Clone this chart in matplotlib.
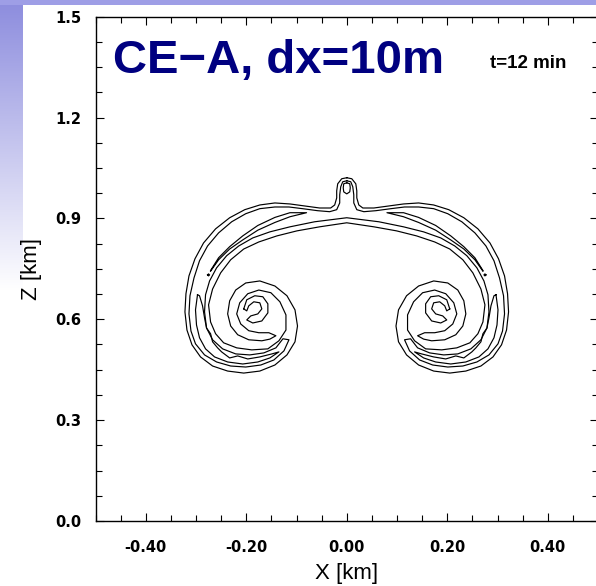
import numpy as np
import matplotlib.pyplot as plt
from matplotlib.patches import Rectangle
from matplotlib.ticker import MultipleLocator

# The run is symmetric about x=0, so the right half is the mirror image.

# outermost contour: top of the cap -> down the side -> spiral -> back out -> bottom of stem
c1_x = [0.000, -0.010, -0.018, -0.020, -0.020, -0.024,
        -0.032, -0.054, -0.084, -0.113, -0.143, -0.173, -0.203, -0.233, -0.261, -0.285,
        -0.302, -0.314, -0.320, -0.322, -0.318, -0.308, -0.291, -0.267, -0.237, -0.205,
        -0.173, -0.143, -0.119, -0.103, -0.098, -0.103, -0.119, -0.143, -0.173, -0.201,
        -0.221, -0.233, -0.237, -0.231, -0.217, -0.195, -0.169, -0.153, -0.141,
        -0.155, -0.175, -0.195, -0.211, -0.219, -0.213, -0.197, -0.175, -0.151, -0.133,
        -0.121, -0.121, -0.135, -0.157, -0.189, -0.219, -0.245, -0.261, -0.271, -0.275,
        -0.267, -0.251, -0.231, -0.205, -0.175, -0.139, -0.099, -0.054, 0.000]
c1_z = [1.021, 1.018, 1.003, 0.982, 0.961, 0.940,
        0.931, 0.931, 0.937, 0.943, 0.946, 0.940, 0.926, 0.902, 0.869, 0.827,
        0.780, 0.729, 0.676, 0.622, 0.568, 0.524, 0.488, 0.461, 0.446, 0.440,
        0.446, 0.464, 0.494, 0.533, 0.580, 0.628, 0.670, 0.699, 0.714, 0.708,
        0.687, 0.655, 0.616, 0.580, 0.554, 0.539, 0.536, 0.541, 0.551,
        0.560, 0.560, 0.566, 0.586, 0.616, 0.649, 0.676, 0.687, 0.679, 0.652,
        0.613, 0.568, 0.536, 0.512, 0.509, 0.515, 0.530, 0.557, 0.592, 0.643,
        0.690, 0.738, 0.777, 0.809, 0.830, 0.848, 0.863, 0.875, 0.887]

# second contour, inside the band, closing at the bottom of the roll
c2_x = [0.000, -0.008, -0.012, -0.014, -0.014, -0.020, -0.034, -0.058, -0.088, -0.115,
        -0.143, -0.173, -0.201, -0.229, -0.255, -0.277, -0.293, -0.304, -0.312, -0.314,
        -0.310, -0.301, -0.283, -0.259, -0.231, -0.201, -0.171, -0.145, -0.125, -0.115,
        -0.127, -0.141, -0.165, -0.193, -0.221, -0.247, -0.267, -0.279, -0.283, -0.281,
        -0.273, -0.259, -0.239, -0.215, -0.187, -0.153, -0.113, -0.064, 0.000]
c2_z = [1.012, 1.009, 0.994, 0.970, 0.946, 0.926, 0.920, 0.923, 0.929, 0.934,
        0.934, 0.929, 0.914, 0.890, 0.857, 0.818, 0.774, 0.723, 0.670, 0.616,
        0.565, 0.527, 0.494, 0.473, 0.461, 0.458, 0.464, 0.479, 0.506, 0.539,
        0.542, 0.515, 0.500, 0.494, 0.497, 0.512, 0.539, 0.574, 0.622, 0.673,
        0.714, 0.753, 0.789, 0.818, 0.842, 0.860, 0.875, 0.890, 0.902]

# innermost level: small loop in the plume head (left half)
cap_x = [0.000, -0.006, -0.007, -0.006, 0.000]
cap_z = [1.006, 1.003, 0.991, 0.979, 0.973]

# innermost level: thin lens along the top of the arc
lens_x = [-0.271, -0.255, -0.233, -0.207, -0.177, -0.143, -0.113, -0.080,
          -0.113, -0.143, -0.177, -0.207, -0.233, -0.255, -0.271]
lens_z = [0.745, 0.783, 0.816, 0.848, 0.879, 0.903, 0.917, 0.917,
          0.905, 0.888, 0.865, 0.836, 0.809, 0.777, 0.743]

# innermost level: tiny island on the flank
dot_x = [-0.277, -0.275, -0.273, -0.275, -0.277]
dot_z = [0.732, 0.735, 0.732, 0.729, 0.732]

# innermost level: ragged loop down the side and under the roll
side_x = [-0.297, -0.301, -0.299, -0.293, -0.281, -0.263, -0.237, -0.207, -0.177, -0.153, -0.135,
          -0.149, -0.173, -0.197, -0.217, -0.233, -0.249, -0.257, -0.267, -0.271, -0.279,
          -0.283, -0.287, -0.293, -0.297]
side_z = [0.673, 0.628, 0.583, 0.545, 0.512, 0.488, 0.473, 0.467, 0.473, 0.485, 0.503,
          0.497, 0.488, 0.482, 0.491, 0.485, 0.503, 0.515, 0.533, 0.557, 0.574,
          0.604, 0.640, 0.670, 0.673]

# hook in the middle of each roll
hook_x = [-0.205, -0.199, -0.183, -0.167, -0.157, -0.157, -0.169, -0.187, -0.199,
          -0.191, -0.177, -0.169, -0.173, -0.185, -0.195, -0.199, -0.205]
hook_z = [0.631, 0.658, 0.670, 0.667, 0.646, 0.619, 0.595, 0.589, 0.598,
          0.610, 0.616, 0.631, 0.649, 0.652, 0.640, 0.625, 0.631]

xticks = [-0.4, -0.2, 0.0, 0.2, 0.4]
xticklabels = ['-0.40', '-0.20', '0.00', '0.20', '0.40']
zticks = [0.0, 0.3, 0.6, 0.9, 1.2, 1.5]
zticklabels = ['0.0', '0.3', '0.6', '0.9', '1.2', '1.5']

W, H = 596, 586
fig = plt.figure(figsize=(W / 100, H / 100), dpi=100)
fig.patch.set_facecolor('white')

# slide backdrop: fading lavender band on the left, strip on top
top = np.array([0.55, 0.55, 0.87])
t = np.clip(np.arange(H) / 290.0, 0, 1)[:, None, None]
band = top + (1 - top) * t
ax_bg = fig.add_axes([0, 0, 23 / W, 1])
ax_bg.imshow(band, aspect='auto')
ax_bg.axis('off')
fig.add_artist(Rectangle((0, 1 - 5 / H), 1, 5 / H, transform=fig.transFigure,
                         color=(0.62, 0.62, 0.90), lw=0))

ax = fig.add_axes([95.5 / W, (H - 521) / H, 502.5 / W, 504.3 / H])


def whole(xs, zs):
    xs, zs = np.asarray(xs), np.asarray(zs)
    fx = np.concatenate([xs, -xs[::-1], xs[:1]])
    fz = np.concatenate([zs, zs[::-1], zs[:1]])
    return fx, fz


for xs, zs in [(c1_x, c1_z), (c2_x, c2_z), (cap_x, cap_z)]:
    fx, fz = whole(xs, zs)
    ax.plot(fx, fz, color='black', lw=0.85)

for xs, zs in [(lens_x, lens_z), (dot_x, dot_z), (side_x, side_z), (hook_x, hook_z)]:
    xs = np.asarray(xs)
    ax.plot(xs, zs, color='black', lw=0.85)
    ax.plot(-xs, zs, color='black', lw=0.85)

ax.set_xlim(-0.5, 0.5)
ax.set_ylim(0, 1.5)
ax.set_xticks(xticks)
ax.set_xticklabels(xticklabels)
ax.set_yticks(zticks)
ax.set_yticklabels(zticklabels)
ax.xaxis.set_minor_locator(MultipleLocator(0.05))
ax.yaxis.set_minor_locator(MultipleLocator(0.075))
ax.tick_params(which='both', direction='in', top=True, right=True, width=0.8)
ax.tick_params(which='major', length=6)
ax.tick_params(which='minor', length=4)
ax.tick_params(axis='x', pad=14)
ax.tick_params(axis='y', pad=10)
for lab in ax.get_xticklabels() + ax.get_yticklabels():
    lab.set_fontweight('bold')
    lab.set_family('DejaVu Sans')
    lab.set_fontsize(10.5)
for s in ax.spines.values():
    s.set_linewidth(1.0)

ax.set_xlabel('X [km]', fontsize=16, family='Liberation Sans', va='center')
ax.xaxis.set_label_coords((347 - 95.5) / 502.5, (521 - 574) / 504.3)
ax.set_ylabel('Z [km]', fontsize=16, family='Liberation Sans', va='center')
ax.yaxis.set_label_coords((31 - 95.5) / 502.5, (521 - 269) / 504.3)

fig.text(113 / W, 1 - 73 / H, 'CE\u2212A, dx=10m', color='#000080', fontsize=34,
         fontweight='bold', family='Liberation Sans', va='baseline')
fig.text(490 / W, 1 - 68 / H, 't=12 min', fontsize=13.5, fontweight='bold',
         family='Liberation Sans', va='baseline')

fig.savefig('out.png', dpi=100)
